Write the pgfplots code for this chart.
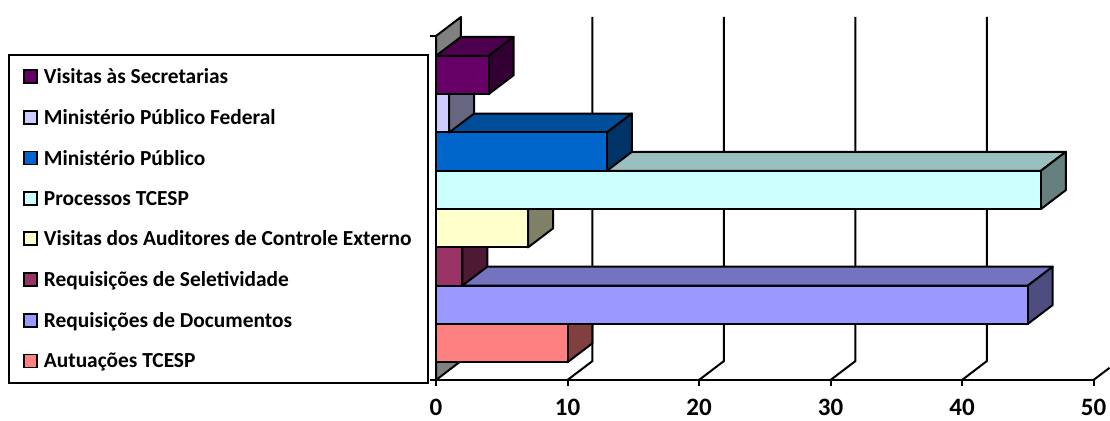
\documentclass[border=0pt]{standalone}
\usepackage{fontspec}
\setmainfont{Carlito}
\usepackage{pgfplots}
\pgfplotsset{compat=1.18}
\definecolor{cA}{HTML}{FF8080}\definecolor{sA}{HTML}{804040}\definecolor{tA}{HTML}{BF6060}
\definecolor{cB}{HTML}{9999FF}\definecolor{sB}{HTML}{4D4D80}\definecolor{tB}{HTML}{7373BF}
\definecolor{cC}{HTML}{993366}\definecolor{sC}{HTML}{4D1933}\definecolor{tC}{HTML}{73264D}
\definecolor{cD}{HTML}{FFFFCC}\definecolor{sD}{HTML}{808066}\definecolor{tD}{HTML}{BFBF99}
\definecolor{cE}{HTML}{CCFFFF}\definecolor{sE}{HTML}{668080}\definecolor{tE}{HTML}{99BFBF}
\definecolor{cF}{HTML}{0066CC}\definecolor{sF}{HTML}{003366}\definecolor{tF}{HTML}{004D99}
\definecolor{cG}{HTML}{CCCCFF}\definecolor{sG}{HTML}{666680}\definecolor{tG}{HTML}{9999BF}
\definecolor{cH}{HTML}{660066}\definecolor{sH}{HTML}{330033}\definecolor{tH}{HTML}{4D004D}
\pgfplotsset{
  frontbar/.style={xbar,bar width=38.3pt,bar shift=0pt,fill=#1,draw=black,line width=2pt,
    legend image code/.code={\draw[fill=#1,draw=black,line width=1.8pt] (1pt,-6pt) rectangle (14pt,7pt);\path (18pt,0pt);}},
  face/.style={fill=#1,draw=black,line width=2pt,line join=round,mark=none,sharp plot,forget plot},
  grid3d/.style={draw=black,line width=2pt,mark=none,sharp plot,forget plot},
}
\begin{document}
\begin{tikzpicture}
\path[use as bounding box] (0,0) rectangle (1110pt,420pt);
\begin{axis}[
  at={(436pt,40pt)},anchor=south west,
  scale only axis,width=657.5pt,height=344pt,
  xmin=0,xmax=50,ymin=-0.963,ymax=8.02,
  clip=false,
  axis x line=bottom,axis y line=left,
  axis line style={-,line width=2pt},
  xtick={0,10,20,30,40,50},
  ytick={-0.963,8.02},yticklabels={,},
  tick style={draw=black,line width=2pt},
  tick align=outside,
  major tick length=6pt,
  xtick pos=bottom,
  /pgf/number format/assume math mode=true,
  tick label style={font=\bfseries\fontsize{25}{30}\selectfont},
  xticklabel style={yshift=-13pt,inner sep=0pt},
  reverse legend,
  legend cell align=left,
  legend style={at={(-0.651,-0.0116)},anchor=south west,draw=black,line width=2pt,
    font=\bfseries\fontsize{21.4}{26}\selectfont,
    inner xsep=14pt,inner ysep=11.5pt,row sep=20.3pt},
]
% back wall and gridlines
\addplot[face=gray] coordinates {(0,-0.963)(1.9,-0.467)(1.9,8.516)(0,8.02)} -- cycle;
\addplot[grid3d] coordinates {(10,-0.963)(11.9,-0.467)(11.9,8.516)};
\addplot[grid3d] coordinates {(20,-0.963)(21.9,-0.467)(21.9,8.516)};
\addplot[grid3d] coordinates {(30,-0.963)(31.9,-0.467)(31.9,8.516)};
\addplot[grid3d] coordinates {(40,-0.963)(41.9,-0.467)(41.9,8.516)};
\addplot[grid3d] coordinates {(50,-0.963)(51.22,-0.645)};
% Autuacoes TCESP = 10
\addplot[face=tA] coordinates {(0,0.5)(1.9,0.996)(11.9,0.996)(10,0.5)} -- cycle;
\addplot[face=sA] coordinates {(10,-0.5)(11.9,-0.004)(11.9,0.996)(10,0.5)} -- cycle;
\addplot[frontbar=cA] coordinates {(10,0)};
\addlegendentry{Autuações TCESP}
% Requisicoes de Documentos = 45
\addplot[face=tB] coordinates {(0,1.5)(1.9,1.996)(46.9,1.996)(45,1.5)} -- cycle;
\addplot[face=sB] coordinates {(45,0.5)(46.9,0.996)(46.9,1.996)(45,1.5)} -- cycle;
\addplot[frontbar=cB] coordinates {(45,1)};
\addlegendentry{Requisições de Documentos}
% Requisicoes de Seletividade = 2
\addplot[face=tC] coordinates {(0,2.5)(1.9,2.996)(3.9,2.996)(2,2.5)} -- cycle;
\addplot[face=sC] coordinates {(2,1.5)(3.9,1.996)(3.9,2.996)(2,2.5)} -- cycle;
\addplot[frontbar=cC] coordinates {(2,2)};
\addlegendentry{Requisições de Seletividade}
% Visitas dos Auditores = 7
\addplot[face=tD] coordinates {(0,3.5)(1.9,3.996)(8.9,3.996)(7,3.5)} -- cycle;
\addplot[face=sD] coordinates {(7,2.5)(8.9,2.996)(8.9,3.996)(7,3.5)} -- cycle;
\addplot[frontbar=cD] coordinates {(7,3)};
\addlegendentry{Visitas dos Auditores de Controle Externo}
% Processos TCESP = 46
\addplot[face=tE] coordinates {(0,4.5)(1.9,4.996)(47.9,4.996)(46,4.5)} -- cycle;
\addplot[face=sE] coordinates {(46,3.5)(47.9,3.996)(47.9,4.996)(46,4.5)} -- cycle;
\addplot[frontbar=cE] coordinates {(46,4)};
\addlegendentry{Processos TCESP}
% Ministerio Publico = 13
\addplot[face=tF] coordinates {(0,5.5)(1.9,5.996)(14.9,5.996)(13,5.5)} -- cycle;
\addplot[face=sF] coordinates {(13,4.5)(14.9,4.996)(14.9,5.996)(13,5.5)} -- cycle;
\addplot[frontbar=cF] coordinates {(13,5)};
\addlegendentry{Ministério Público}
% Ministerio Publico Federal = 1
\addplot[face=tG] coordinates {(0,6.5)(1.9,6.996)(2.9,6.996)(1,6.5)} -- cycle;
\addplot[face=sG] coordinates {(1,5.5)(2.9,5.996)(2.9,6.996)(1,6.5)} -- cycle;
\addplot[frontbar=cG] coordinates {(1,6)};
\addlegendentry{Ministério Público Federal}
% Visitas as Secretarias = 4
\addplot[face=tH] coordinates {(0,7.5)(1.9,7.996)(5.9,7.996)(4,7.5)} -- cycle;
\addplot[face=sH] coordinates {(4,6.5)(5.9,6.996)(5.9,7.996)(4,7.5)} -- cycle;
\addplot[frontbar=cH] coordinates {(4,7)};
\addlegendentry{Visitas às Secretarias}
\end{axis}
\end{tikzpicture}
\end{document}
